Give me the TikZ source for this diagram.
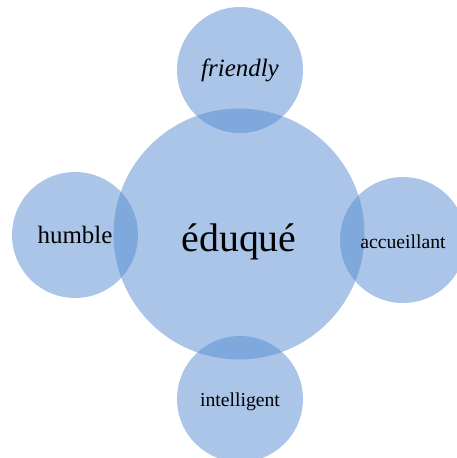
\documentclass[tikz,border=0pt]{standalone}
\usepackage{fontspec}
\setmainfont{Liberation Serif}
\usepackage{tikz}
\definecolor{vennBlue}{HTML}{558BD1}
\newcommand{\lowered}[2]{\raisebox{-#1}[\height][\depth]{#2}}

\begin{document}
\begin{tikzpicture}[x=0.02cm,y=-0.02cm,
 bubble/.style={circle,fill=vennBlue,fill opacity=0.5,text opacity=1,
 inner sep=0pt,minimum size=2.52cm,align=center},
 hub/.style={bubble,minimum size=5.02cm,font=\fontsize{22.7}{26}\selectfont},
 bigtxt/.style={font=\fontsize{14.2}{17}\selectfont},
 smalltxt/.style={font=\fontsize{11.2}{13}\selectfont}]
\clip (0,0) rectangle (457,458);
\node[hub] (edu) at (239,234) {\lowered{4.5pt}{éduqué}};
\node[bubble,bigtxt] (fri) at (240,70) {\textit{friendly}};
\node[bubble,bigtxt] (hum) at (75,235) {humble};
\node[bubble,smalltxt] (acc) at (403,240) {\lowered{1pt}{accueillant}};
\node[bubble,smalltxt] (int) at (240,399) {\lowered{1.5pt}{intelligent}};
\end{tikzpicture}
\end{document}
